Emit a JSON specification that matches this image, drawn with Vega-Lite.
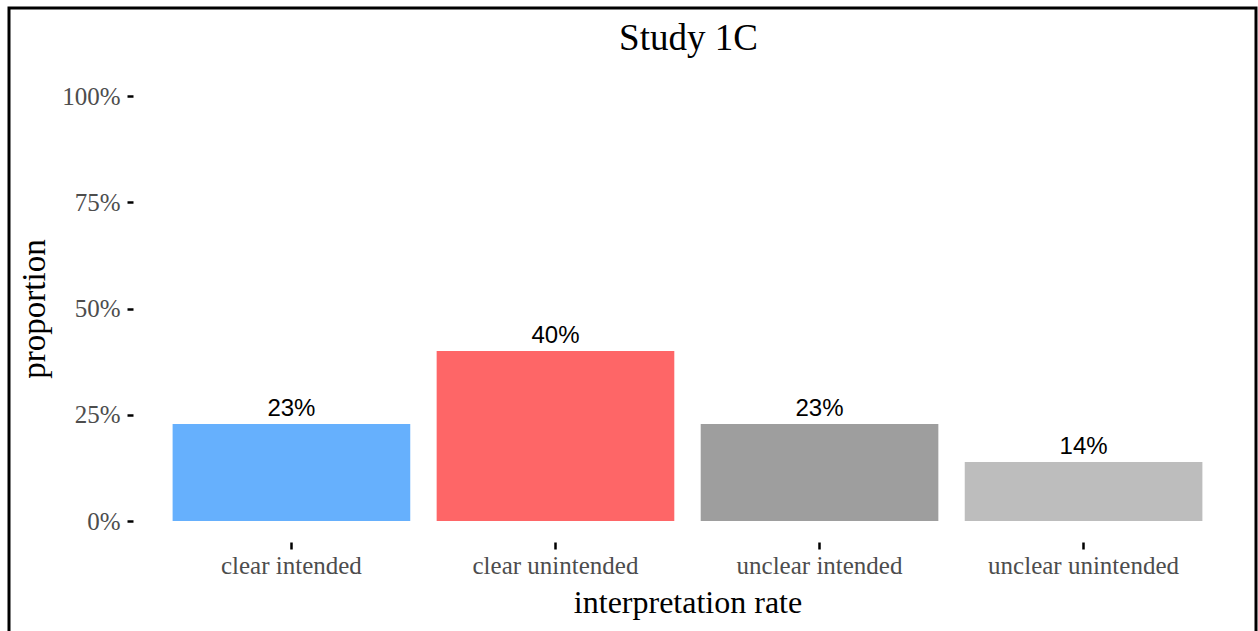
{
  "$schema": "https://vega.github.io/schema/vega-lite/v6.json",
  "autosize": {"type": "none"},
  "padding": {"left": 9, "top": 8, "right": 2, "bottom": 0},
  "width": 1247,
  "height": 640,
  "background": "white",
  "config": {"view": {"stroke": "black", "strokeWidth": 3}, "font": "Liberation Serif"},
  "title": {"text": "Study 1C", "font": "Liberation Serif", "fontSize": 37, "fontWeight": "normal", "color": "black", "anchor": "middle", "frame": "group", "dx": 56, "dy": 54},
  "data": {"values": [
    {"category": "clear intended", "proportion": 0.228, "label": "23%"},
    {"category": "clear unintended", "proportion": 0.4, "label": "40%"},
    {"category": "unclear intended", "proportion": 0.228, "label": "23%"},
    {"category": "unclear unintended", "proportion": 0.139, "label": "14%"}
  ]},
  "encoding": {
    "x": {"field": "category", "type": "nominal", "sort": null,
      "scale": {"range": [124, 1233], "paddingInner": 0.1, "paddingOuter": 0.15},
      "axis": {"orient": "bottom", "offset": -106, "domain": false, "grid": false, "labelAngle": 0, "labelLimit": 0,
        "tickColor": "black", "tickWidth": 2.5, "tickSize": 7,
        "labelFont": "Liberation Serif", "labelFontSize": 25, "labelColor": "#4d4d4d", "labelPadding": 4,
        "title": "interpretation rate", "titleFont": "Liberation Serif", "titleFontSize": 32, "titleFontWeight": "normal", "titleColor": "black", "titlePadding": 9}},
    "y": {"field": "proportion", "type": "quantitative",
      "scale": {"domain": [0, 1], "range": [513, 88], "nice": false},
      "axis": {"orient": "left", "offset": -124, "domain": false, "grid": false, "values": [0, 0.25, 0.5, 0.75, 1], "format": ".0%",
        "tickColor": "black", "tickWidth": 2.5, "tickSize": 6,
        "labelFont": "Liberation Serif", "labelFontSize": 25, "labelColor": "#4d4d4d", "labelPadding": 7,
        "title": "proportion", "titleFont": "Liberation Serif", "titleFontSize": 33, "titleFontWeight": "normal", "titleColor": "black", "titlePadding": 10}}
  },
  "layer": [
    {"mark": {"type": "bar"},
     "encoding": {"color": {"field": "category", "type": "nominal", "legend": null,
       "scale": {"domain": ["clear intended", "clear unintended", "unclear intended", "unclear unintended"], "range": ["#66b0fd", "#fe6667", "#9e9e9e", "#bdbdbd"]}}}},
    {"mark": {"type": "text", "baseline": "alphabetic", "dy": -8, "font": "Liberation Sans", "fontSize": 24, "color": "black"},
     "encoding": {"text": {"field": "label", "type": "nominal"}}}
  ]
}
